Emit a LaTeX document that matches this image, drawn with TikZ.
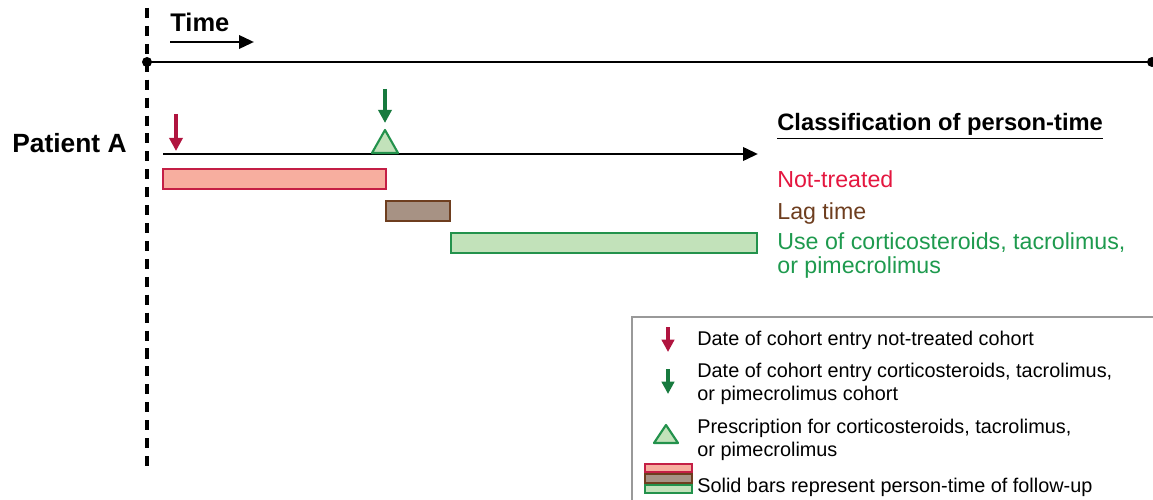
\documentclass[tikz,border=0pt]{standalone}
\usepackage{fontspec}
\setmainfont{Liberation Sans}
\usetikzlibrary{arrows.meta}
\definecolor{entryred}{HTML}{B0143F}
\definecolor{untreatedtext}{HTML}{E4163F}
\definecolor{untreatedfill}{HTML}{F7AE9F}
\definecolor{untreatedline}{HTML}{C41F45}
\definecolor{lagfill}{HTML}{A79284}
\definecolor{lagline}{HTML}{6E3E1F}
\definecolor{entrygreen}{HTML}{177A3E}
\definecolor{usefill}{HTML}{C2E2BA}
\definecolor{useline}{HTML}{23924C}
\definecolor{usetext}{HTML}{1E9A4E}
\tikzset{
  timeline/.style = {line width=1.7pt},
  timearrow/.style = {line width=1.6pt, -{Triangle[length=8.5pt,width=7.5pt]}},
  entrymark/.style = {line width=2.2pt, -{Triangle[length=7.5pt,width=7.5pt]}},
  legendmark/.style = {line width=2pt, -{Triangle[length=7pt,width=7pt]}},
  rxmark/.style = {line width=1.2pt, draw=useline, fill=usefill, line join=round},
  untreatedbar/.style = {line width=1pt, draw=untreatedline, fill=untreatedfill},
  lagbar/.style = {line width=1pt, draw=lagline, fill=lagfill},
  usebar/.style = {line width=1pt, draw=useline, fill=usefill},
  classlabel/.style = {anchor=base west, inner sep=0pt, align=left,
    font=\fontsize{13.2}{13.6}\selectfont},
  legendtext/.style = {anchor=base west, inner sep=0pt, align=left,
    font=\fontsize{11.3}{13}\selectfont}
}
\begin{document}
\begin{tikzpicture}[x=0.02cm, y=-0.02cm]
  \useasboundingbox (0,0) rectangle (1153,500);

  % study axis
  \draw[line width=2.2pt, dash pattern=on 5.7pt off 4.5pt] (147,8) -- (147,466);
  \coordinate (start) at (147,62);
  \coordinate (end) at (1152,62);
  \draw[timeline] (start) -- (end);
  \fill (start) circle (5);
  \fill (end) circle (5);

  \node[anchor=base west, inner sep=0pt, font=\fontsize{14.5}{16}\selectfont\bfseries]
    (timelabel) at (170,32) {Time};
  \coordinate (timefrom) at (170,42);
  \coordinate (timeto) at (254,42);
  \draw[timearrow] (timefrom) -- (timeto);

  % patient A
  \node[anchor=base west, inner sep=0pt, font=\fontsize{15}{18}\selectfont\bfseries]
    (patientA) at (12,153) {Patient A};
  \coordinate (followstart) at (163,154);
  \coordinate (followend) at (758,154);
  \draw[timeline, -{Triangle[length=8.5pt,width=7.5pt]}] (followstart) -- (followend);

  \coordinate (redtop) at (176,114);
  \coordinate (redtip) at (176,151);
  \draw[entrymark, entryred] (redtop) -- (redtip);

  \coordinate (rxapex) at (385,130);
  \draw[rxmark] (372,153) -- (rxapex) -- (398,153) -- cycle;
  \coordinate (greentop) at (385,89);
  \draw[entrymark, entrygreen, shorten >=4] (greentop) -- (rxapex);

  % person-time bars
  \filldraw[untreatedbar] (163,169) rectangle (386,189);
  \filldraw[lagbar] (386,201) rectangle (450,221);
  \filldraw[usebar] (451,233) rectangle (757,253);

  % classification
  \node[anchor=base west, inner sep=0pt, font=\fontsize{13.5}{15}\selectfont\bfseries]
    (classhead) at (777,131) {\underline{Classification of person-time}};
  \node[classlabel, text=untreatedtext] (untreated) at (777,187) {Not-treated};
  \node[classlabel, text=lagline] (lag) at (777,219) {Lag time};
  \node[classlabel, text=usetext] (use) at (777,273)
    {Use of corticosteroids, tacrolimus,\\or pimecrolimus};

  % legend
  \draw[line width=1.1pt, draw=black!40] (632,317) rectangle (1170,510);
  \coordinate (lgredtop) at (668,327);
  \coordinate (lgredtip) at (668,352);
  \draw[legendmark, entryred] (lgredtop) -- (lgredtip);
  \node[legendtext] (lgred) at (697,345) {Date of cohort entry not-treated cohort};

  \coordinate (lggreentop) at (668,369);
  \coordinate (lggreentip) at (668,394);
  \draw[legendmark, entrygreen] (lggreentop) -- (lggreentip);
  \node[legendtext] (lggreen) at (697,400)
    {Date of cohort entry corticosteroids, tacrolimus,\\or pimecrolimus cohort};

  \draw[rxmark] (654,443) -- (666,425) -- (678,443) -- cycle;
  \node[legendtext] (lgrx) at (697,456)
    {Prescription for corticosteroids, tacrolimus,\\or pimecrolimus};

  \filldraw[untreatedbar] (645,464) rectangle (692,472);
  \filldraw[lagbar] (645,474) rectangle (692,483);
  \filldraw[usebar] (645,485) rectangle (692,493);
  \node[legendtext] (lgbars) at (697,492) {Solid bars represent person-time of follow-up};
\end{tikzpicture}
\end{document}
